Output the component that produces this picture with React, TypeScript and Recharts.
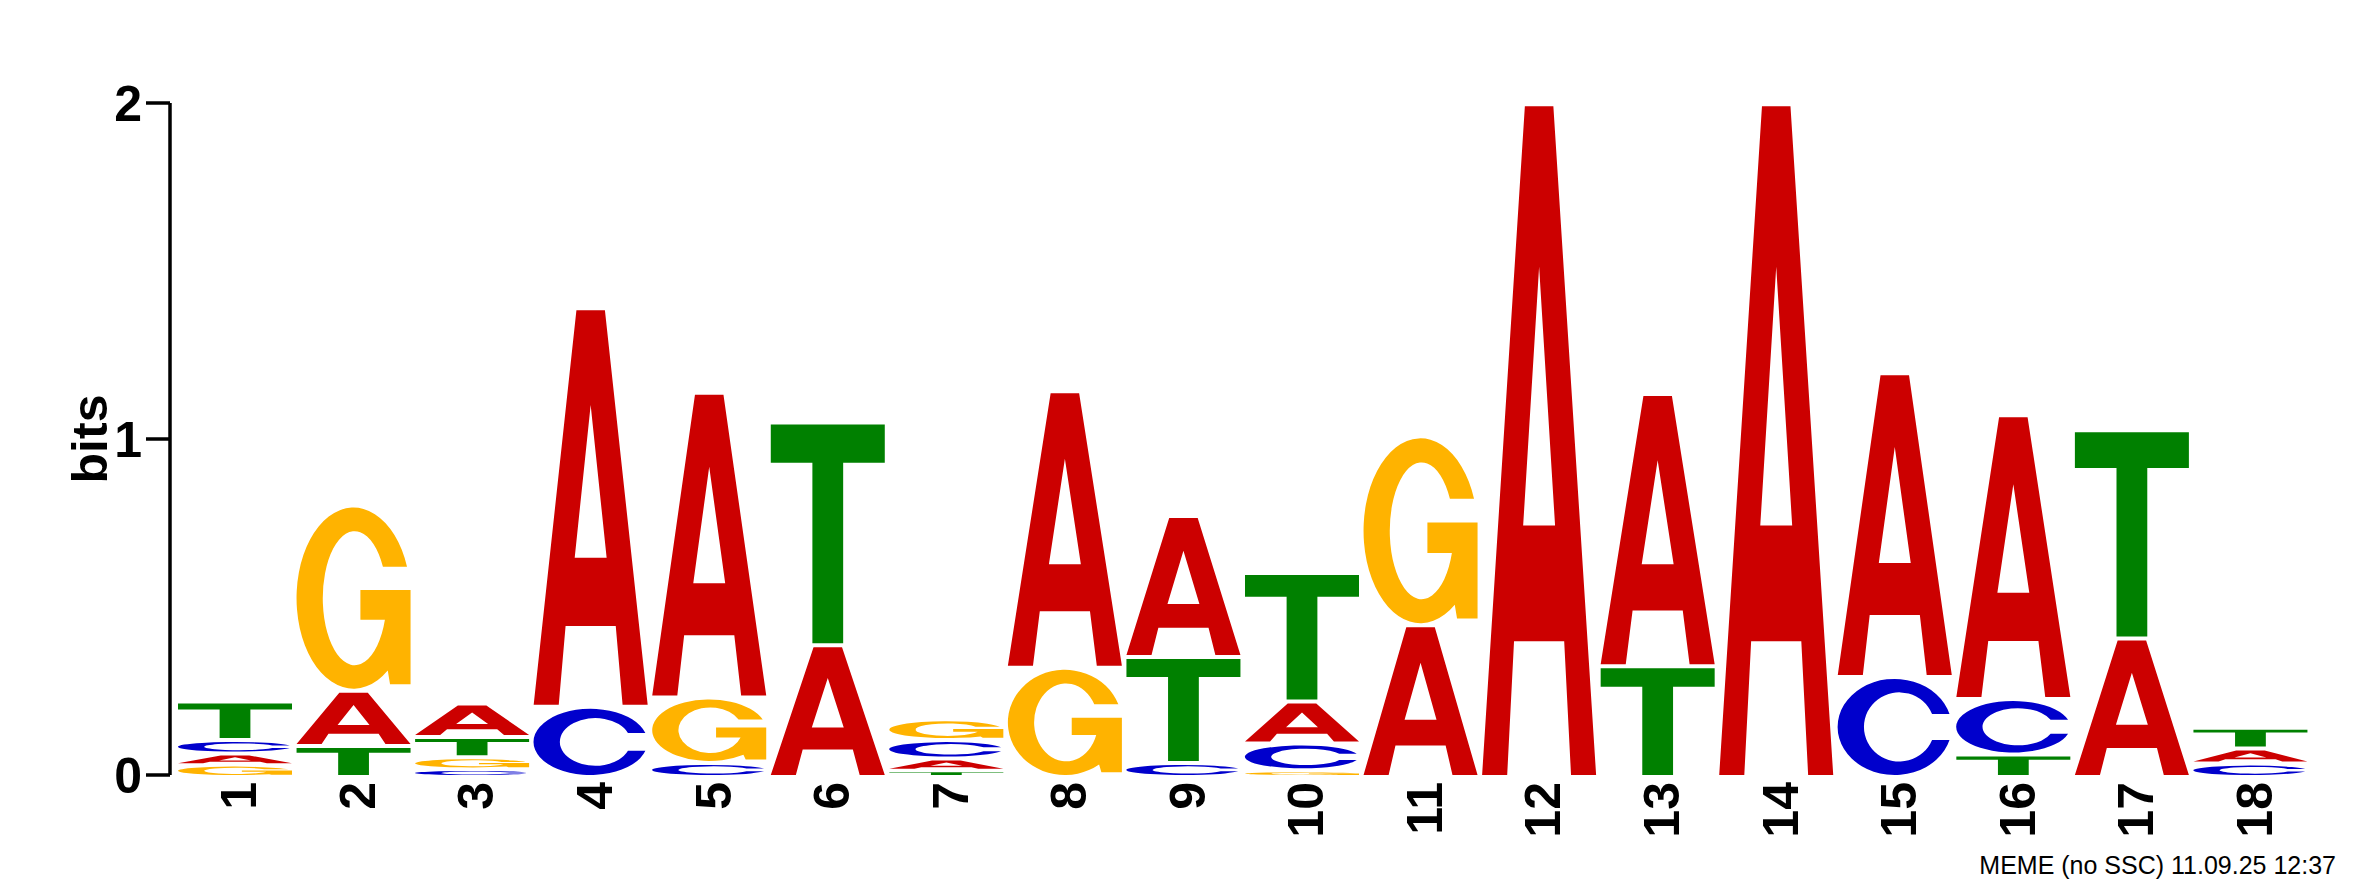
import { BarChart, Bar, XAxis, YAxis } from "recharts";

const FONT = '"Liberation Sans", Arial, Helvetica, sans-serif';

// motif positions
const positions = ["1", "2", "3", "4", "5", "6", "7", "8", "9", "10", "11", "12", "13", "14", "15", "16", "17", "18"];

// information per letter (bits)
const bitsA = [0.033, 0.165, 0.10, 1.186, 0.907, 0.38, 0.035, 0.823, 0.42, 0.125, 0.44, 1.99, 0.81, 1.99, 0.904, 0.845, 0.40, 0.045];
const bitsC = [0.04, 0, 0.012, 0.197, 0.03, 0, 0.055, 0, 0.03, 0.08, 0, 0, 0, 0, 0.286, 0.165, 0, 0.028];
const bitsG = [0.025, 0.551, 0.035, 0, 0.195, 0, 0.062, 0.313, 0, 0.008, 0.562, 0, 0, 0, 0, 0, 0, 0];
const bitsT = [0.115, 0.08, 0.06, 0, 0, 0.663, 0.008, 0, 0.315, 0.382, 0, 0, 0.318, 0, 0, 0.055, 0.62, 0.062];

const yTicks = [0, 1, 2];
const yLabel = "bits";
const footer = "MEME (no SSC) 11.09.25 12:37";

const COLORS: Record<string, string> = {
  A: "#CC0000",
  C: "#0000CC",
  G: "#FFB300",
  T: "#008000",
};

// glyph outlines in a unit box (0..1, y down), stretched to each bar
const GLYPHS: Record<string, string> = {
  A: "M0,1 L0.375,0 L0.625,0 L1,1 L0.78,1 L0.72,0.8 L0.28,0.8 L0.22,1 Z M0.5,0.24 L0.36,0.627 L0.64,0.627 Z",
  C: "M0.98,0.365 A0.5,0.5 0 1 0 0.98,0.635 L0.827,0.635 A0.31,0.36 0 1 1 0.827,0.365 Z",
  G: "M0.969,0.327 A0.5,0.5 0 1 0 0.8,0.9 L0.82,0.975 L1,0.975 L1,0.455 L0.56,0.455 L0.56,0.62 L0.775,0.62 A0.28,0.37 0 1 1 0.7575,0.327 Z",
  T: "M0,0 H1 V0.175 H0.635 V1 H0.365 V0.175 H0 Z",
};

const data = positions.map((pos, i) => {
  const letters: [string, number][] = [
    ["A", bitsA[i]],
    ["C", bitsC[i]],
    ["G", bitsG[i]],
    ["T", bitsT[i]],
  ];
  letters.sort((a, b) => a[1] - b[1]);
  const row: any = { pos };
  letters.forEach(([l, v], k) => {
    row[`s${k}`] = v;
    row[`l${k}`] = l;
  });
  return row;
});

const slots = [0, 1, 2, 3];

function makeGlyph(slot: number) {
  return (props: any) => {
    const { x, y, width, height, payload } = props;
    if (!payload || !height || height <= 0) return <g />;
    const letter = payload[`l${slot}`];
    let below = 0;
    for (let k = 0; k < slot; k++) below += payload[`s${k}`];
    const gap = below > 0 ? Math.min(4, height * 0.3) : 0;
    const h = height - gap;
    return (
      <path
        d={GLYPHS[letter]}
        fill={COLORS[letter]}
        fillRule="evenodd"
        transform={`translate(${x},${y}) scale(${width},${h})`}
      />
    );
  };
}

function PosTick(props: any) {
  const { x, y, payload } = props;
  return (
    <text
      x={x}
      y={y}
      dy={4}
      transform={`rotate(-90, ${x}, ${y})`}
      textAnchor="end"
      dominantBaseline="central"
      fontFamily={FONT}
      fontWeight="bold"
      fontSize={50}
      fill="#000"
    >
      {payload.value}
    </text>
  );
}

function BitsLabel(props: any) {
  const vb = props.viewBox || { x: 0, y: 103, width: 170, height: 672 };
  const cx = 107;
  const cy = vb.y + vb.height / 2;
  return (
    <text
      x={cx}
      y={cy}
      transform={`rotate(-90, ${cx}, ${cy})`}
      textAnchor="middle"
      fontFamily={FONT}
      fontWeight="bold"
      fontSize={50}
      fill="#000"
    >
      {yLabel}
    </text>
  );
}

export default function App() {
  return (
    <div style={{ position: "absolute", left: 0, top: 0, width: 2358, height: 883, background: "#fff" }}>
      <BarChart
        width={2358}
        height={883}
        data={data}
        margin={{ top: 103, right: 48, bottom: 48, left: 0 }}
        barSize={114}
      >
        <XAxis
          dataKey="pos"
          axisLine={false}
          tickLine={false}
          tickSize={0}
          tickMargin={7}
          interval={0}
          height={60}
          padding={{ left: 6, right: 0 }}
          tick={<PosTick />}
        />
        <YAxis
          width={170}
          domain={[0, 2]}
          ticks={yTicks}
          interval={0}
          tickSize={24}
          tickMargin={4}
          axisLine={{ stroke: "#000", strokeWidth: 3.5 }}
          tickLine={{ stroke: "#000", strokeWidth: 3.5 }}
          tick={{ fontSize: 50, fontWeight: "bold", fill: "#000", fontFamily: FONT }}
          label={<BitsLabel />}
        />
        {slots.map((k) => (
          <Bar
            key={k}
            dataKey={`s${k}`}
            stackId="logo"
            shape={makeGlyph(k)}
            isAnimationActive={false}
          />
        ))}
      </BarChart>
      <svg
        width={2358}
        height={883}
        style={{ position: "absolute", left: 0, top: 0, pointerEvents: "none" }}
      >
        <text x={2336} y={874} textAnchor="end" fontFamily={FONT} fontSize={25} fill="#000">
          {footer}
        </text>
      </svg>
    </div>
  );
}
